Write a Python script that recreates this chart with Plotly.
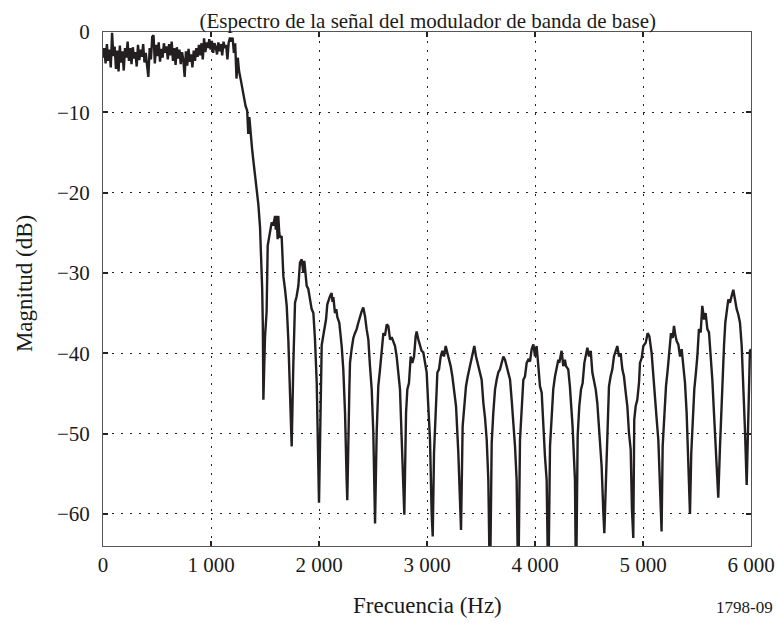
import plotly.graph_objects as go

# ---- data ----
passband_hz = [0, 12, 24, 36, 48, 60, 72, 84, 96, 108, 120, 132, 144, 156, 168, 180, 192, 204, 216, 228,
               240, 252, 264, 276, 288, 300, 312, 324, 336, 348, 360, 372, 384, 396, 408, 420, 432, 444, 456, 468,
               480, 492, 504, 516, 528, 540, 552, 564, 576, 588, 600, 612, 624, 636, 648, 660, 672, 684, 696, 708,
               720, 732, 744, 756, 768, 780, 792, 804, 816, 828, 840, 852, 864, 876, 888, 900, 912, 924, 936, 948,
               960, 972, 984, 996, 1008, 1020, 1032, 1044, 1056, 1068, 1080, 1092, 1104, 1116, 1128, 1140, 1152,
               1164, 1176, 1188]
passband_db = [-3.2, -2.0, -3.9, -1.5, -3.6, -2.2, -4.4, -0.1, -3.0, -1.8, -4.6, -2.3, -4.9, -1.7, -3.8, -2.4,
               -4.8, -2.0, -3.2, -1.2, -3.6, -2.0, -4.0, -1.9, -3.3, -2.5, -4.3, -1.6, -3.5, -2.2, -3.1, -1.5,
               -3.8, -2.6, -4.2, -5.6, -2.0, -3.4, -0.6, -0.4, -3.9, -1.6, -3.0, -1.3, -3.7, -2.1, -3.2, -1.4,
               -2.6, -1.8, -3.4, -1.5, -2.9, -1.2, -3.6, -2.0, -4.1, -1.9, -3.3, -2.2, -4.0, -2.5, -3.5, -5.6,
               -2.4, -4.2, -2.1, -3.7, -2.8, -4.4, -2.3, -3.6, -2.0, -3.1, -1.6, -2.9, -1.4, -3.4, -0.8, -2.5,
               -1.3, -2.0, -0.9, -2.2, -1.1, -2.6, -1.4, -1.9, -2.8, -1.3, -2.4, -1.5, -2.9, -1.2, -2.0, -1.6,
               -3.4, -1.3, -0.7, -1.2]

rolloff_hz = [1200, 1212, 1224, 1236, 1248, 1260, 1275, 1290, 1305, 1320, 1335, 1345, 1355, 1368, 1380,
              1392, 1415, 1438, 1454, 1465, 1474, 1480, 1485]
rolloff_db = [-0.7, -2.6, -1.4, -5.8, -3.2, -4.9, -5.9, -7.0, -8.2, -9.2, -9.8, -12.7, -10.6, -13.0, -14.5,
              -16.0, -18.6, -21.4, -24.3, -28.0, -32.0, -36.6, -45.8]

lobes_hz = [1500, 1515, 1525, 1546, 1562, 1577, 1593, 1600, 1608, 1617, 1623, 1632, 1639, 1654, 1662, 1670,
            1685, 1701, 1716, 1731, 1747,
            1762, 1778, 1793, 1809, 1824, 1840, 1855, 1864, 1886, 1901, 1917, 1932, 1948, 1963, 1979, 1994, 2000,
            2009, 2015, 2025, 2046, 2065, 2077, 2090, 2102, 2117, 2125, 2133, 2148, 2160, 2170, 2188, 2210, 2225,
            2241, 2256, 2262,
            2281, 2287, 2302, 2318, 2333, 2349, 2364, 2380, 2395, 2410, 2426, 2441, 2457, 2472, 2488, 2503, 2512,
            2519,
            2534, 2549, 2565, 2580, 2596, 2611, 2627, 2642, 2658, 2673, 2688, 2704, 2719, 2735, 2750, 2766, 2781,
            2790,
            2806, 2818, 2833, 2849, 2864, 2880, 2895, 2904, 2920, 2935, 2950, 2966, 2981, 2997, 3012, 3028, 3043,
            3053,
            3065, 3080, 3096, 3111, 3127, 3142, 3157, 3173, 3188, 3204, 3219, 3235, 3250, 3269, 3290, 3306, 3315,
            3330, 3346, 3361, 3377, 3392, 3408, 3423, 3438, 3454, 3469, 3485, 3506, 3522, 3537, 3553, 3568, 3583,
            3599, 3614, 3630, 3645, 3660, 3676, 3691, 3707, 3722, 3738, 3753, 3769, 3784, 3799, 3815, 3830, 3845,
            3861, 3876, 3892, 3907, 3923, 3938, 3954, 3969, 3985, 4000, 4015, 4031, 4046, 4062, 4077, 4092, 4108,
            4123,
            4139, 4154, 4169, 4185, 4200, 4216, 4225, 4237, 4246, 4262, 4277, 4287, 4308, 4323, 4348, 4370, 4380,
            4395, 4410, 4426, 4441, 4457, 4472, 4485, 4500, 4516, 4531, 4547, 4562, 4577, 4596, 4617, 4633, 4642,
            4657, 4670, 4685, 4700, 4716, 4731, 4747, 4762, 4778, 4793, 4809, 4824, 4840, 4855, 4870, 4886, 4898,
            4910,
            4919, 4932, 4947, 4963, 4972, 4988, 5003, 5025, 5043, 5059, 5080, 5096, 5111, 5127, 5142, 5157, 5172,
            5182, 5198, 5213, 5229, 5244, 5259, 5275, 5287, 5300, 5312, 5327, 5343, 5358, 5373, 5389, 5404, 5420,
            5435,
            5447, 5460, 5475, 5490, 5503, 5518, 5534, 5549, 5565, 5580, 5596, 5611, 5627, 5642, 5657, 5673, 5688,
            5697,
            5713, 5725, 5738, 5750, 5762, 5775, 5790, 5805, 5821, 5836, 5852, 5867, 5883, 5898, 5914, 5929, 5944,
            5960, 5975, 5990, 6000]
lobes_db = [-38.0, -34.8, -26.6, -25.0, -23.7, -24.1, -22.9, -24.6, -22.9, -25.8, -22.9, -25.0, -25.6, -25.4,
            -28.0, -30.4, -32.0, -34.1, -38.3, -45.8, -51.6,
            -41.6, -33.7, -32.9, -31.6, -28.7, -28.3, -30.0, -28.5, -31.6, -32.0, -33.3, -34.5, -35.0, -38.3,
            -43.7, -51.8, -58.6,
            -51.6, -47.0, -39.0, -37.3, -35.8, -33.9, -33.2, -32.9, -32.5, -33.6, -33.0, -35.0, -34.5, -35.5,
            -36.2, -39.1, -42.0, -47.4, -55.8, -58.3,
            -44.5, -41.2, -39.5, -38.1, -37.5, -37.0, -36.2, -35.4, -34.8, -34.3, -35.4, -37.0, -38.3, -41.6,
            -44.5, -49.9, -55.8, -61.2,
            -49.9, -44.1, -42.0, -40.0, -37.5, -37.8, -36.4, -36.6, -38.3, -38.0, -38.5, -39.1, -40.4, -42.4,
            -44.5, -50.8, -55.8, -60.1,
            -47.4, -44.5, -43.7, -40.4, -41.2, -40.4, -37.9, -37.3, -38.3, -39.1, -39.7, -39.9, -41.2, -42.4,
            -46.6, -50.8, -59.9, -62.8,
            -52.4, -46.6, -42.4, -42.0, -40.4, -39.7, -40.4, -39.1, -40.0, -40.6, -41.6, -42.9, -44.5, -46.6,
            -52.4, -59.1, -62.0,
            -49.1, -46.2, -44.1, -42.9, -42.0, -41.2, -40.4, -39.1, -40.4, -41.2, -42.4, -43.3, -46.2, -48.0,
            -50.8, -55.8, -70.0,
            -51.2, -47.4, -44.5, -43.3, -42.4, -42.0, -41.2, -40.4, -40.8, -41.6, -42.4, -43.3, -45.8, -48.3,
            -51.6, -55.8, -70.0,
            -50.8, -46.6, -43.3, -42.9, -41.2, -40.8, -41.0, -39.5, -38.9, -40.4, -39.1, -41.6, -44.1, -44.9,
            -49.5, -52.8, -55.8, -70.0,
            -51.6, -48.3, -44.5, -42.9, -41.6, -40.8, -41.2, -40.0, -39.7, -41.6, -40.8, -41.6, -42.0, -44.1,
            -49.1, -55.8, -70.0,
            -50.3, -46.6, -44.5, -43.7, -41.2, -40.0, -39.3, -40.4, -39.7, -42.4, -43.3, -44.5, -46.2, -49.5,
            -54.1, -59.9, -62.4,
            -55.8, -49.5, -44.1, -42.9, -42.0, -40.4, -39.7, -39.1, -40.4, -40.0, -42.0, -42.9, -44.9, -46.6,
            -49.9, -52.0, -59.5, -63.0,
            -48.3, -46.6, -45.8, -43.7, -41.2, -40.6, -39.1, -38.7, -37.5, -37.9, -40.0, -43.3, -45.8, -48.3,
            -50.8, -57.4, -62.2,
            -51.6, -47.4, -44.1, -42.0, -40.0, -37.5, -38.1, -36.6, -37.8, -38.5, -38.9, -40.4, -39.5, -42.0,
            -43.7, -47.4, -54.1, -60.0,
            -52.4, -48.3, -44.5, -42.4, -40.4, -37.0, -37.4, -34.1, -35.8, -35.0, -37.0, -37.4, -40.0, -43.3,
            -47.4, -51.6, -56.2, -58.0,
            -51.6, -46.6, -43.7, -39.1, -36.2, -35.0, -33.3, -33.7, -32.9, -32.1, -33.3, -34.5, -35.2, -36.2,
            -39.1, -43.7, -49.5, -56.4, -45.8, -39.7, -39.5]

freq_hz = passband_hz + rolloff_hz + lobes_hz
mag_db = passband_db + rolloff_db + lobes_db

x_ticks = [0, 1000, 2000, 3000, 4000, 5000, 6000]
x_tick_labels = ["0", "1 000", "2 000", "3 000", "4 000", "5 000", "6 000"]
y_ticks = [0, -10, -20, -30, -40, -50, -60]
y_tick_labels = ["0", "\u221210", "\u221220", "\u221230", "\u221240", "\u221250", "\u221260"]

FONT = "Liberation Serif, Times New Roman, serif"
TXT = "#1a1a1a"

fig = go.Figure()
fig.add_trace(go.Scatter(x=freq_hz, y=mag_db, mode="lines",
                         line=dict(color="#231f20", width=2.4), showlegend=False))

axis_common = dict(showline=True, mirror="ticks", linecolor="#555555", linewidth=1,
                   ticks="inside", ticklen=5, tickcolor="#222222", tickwidth=1.5,
                   showgrid=True, gridcolor="#222222", gridwidth=1, griddash="2px,7px",
                   zeroline=False, automargin=False,
                   tickfont=dict(family=FONT, size=21, color=TXT))

fig.update_xaxes(range=[0, 6000], tickvals=x_ticks, ticktext=x_tick_labels, **axis_common)
fig.update_yaxes(range=[-64, 0], tickvals=y_ticks, ticktext=y_tick_labels,
                 ticklabelstandoff=8, **axis_common)

fig.update_layout(
    width=777, height=625,
    margin=dict(l=103, r=26, t=32, b=79),
    paper_bgcolor="white", plot_bgcolor="white",
    title=dict(text="(Espectro de la señal del modulador de banda de base)",
               font=dict(family=FONT, size=21, color=TXT),
               x=0.5505, xanchor="center", y=0.967, yanchor="middle"),
    annotations=[
        dict(text="Frecuencia (Hz)", xref="paper", yref="paper", x=0.5, y=-0.115,
             xanchor="center", yanchor="middle", showarrow=False,
             font=dict(family=FONT, size=23, color=TXT)),
        dict(text="Magnitud (dB)", xref="paper", yref="paper", x=-0.12, y=0.51,
             xanchor="center", yanchor="middle", showarrow=False, textangle=-90,
             font=dict(family=FONT, size=23, color=TXT)),
        dict(text="1798-09", xref="paper", yref="paper", x=1.037, y=-0.119,
             xanchor="right", yanchor="middle", showarrow=False,
             font=dict(family=FONT, size=17, color=TXT)),
    ],
)

fig.write_html("out.html")
